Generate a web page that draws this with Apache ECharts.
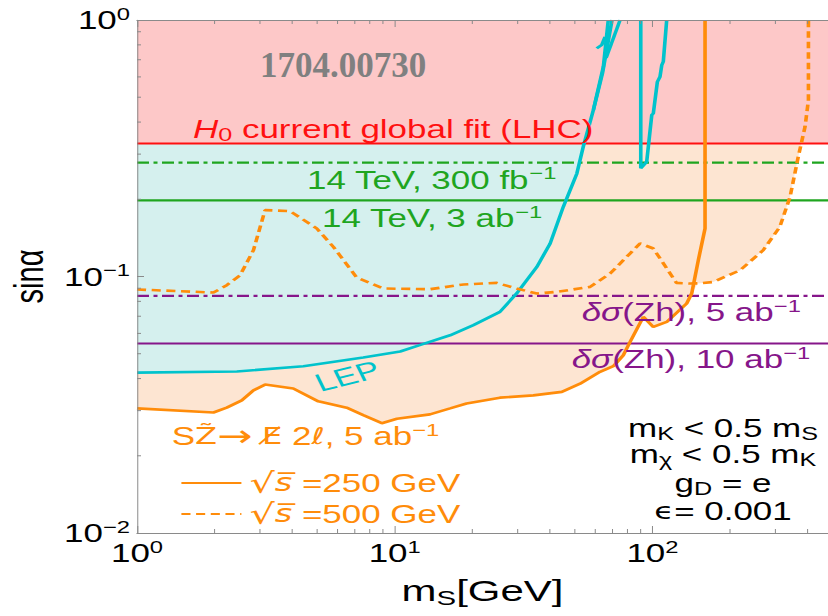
<!DOCTYPE html>
<html><head><meta charset="utf-8">
<script src="https://cdn.jsdelivr.net/npm/echarts@6/dist/echarts.min.js"></script>
<style>
html,body{margin:0;padding:0;background:#fff;overflow:hidden;}
#wrap{width:828px;height:616px;overflow:hidden;position:relative;background:#fff;}
#chart{width:592px;height:616px;transform:scaleX(1.398649);transform-origin:0 0;}
</style></head>
<body><div id="wrap"><div id="chart"></div></div>
<script>
// horizontal stretch of the reference picture
const K = 828 / 592;

// axis extents and tick values
const X_MIN = 1, X_MAX = 480, Y_MIN = 0.01, Y_MAX = 1;
const X_MINOR_TICKS = [2,3,4,5,6,7,8,9,20,30,40,50,60,70,80,90,200,300,400];
const Y_MINOR_TICKS = [0.02,0.03,0.04,0.05,0.06,0.07,0.08,0.09,0.2,0.3,0.4,0.5,0.6,0.7,0.8,0.9];

// horizontal limits on sin(alpha)
const H0_FIT = 0.330;
const LHC_300FB = 0.278;
const LHC_3AB = 0.198;
const ZH_5AB = 0.084;
const ZH_10AB = 0.0548;

// S Z~ -> missing E + 2l, sqrt(s) = 250 GeV (solid)
const SZ_250 = [[1,0.0306],[1.98,0.0295],[2.23,0.0308],[2.55,0.0329],[2.83,0.0360],[3.14,0.0379],[4.04,0.0366],[5.05,0.0326],[6.51,0.0308],[7.55,0.0288],[8.91,0.0268],[10.2,0.0279],[13.7,0.0290],[16.4,0.0306],[19.0,0.0320],[25.6,0.0337],[34.5,0.0344],[44.5,0.0355],[52.4,0.0382],[62.6,0.0425],[70.5,0.0447],[77.1,0.0493],[81.9,0.0556],[92.2,0.0696],[100.8,0.0636],[113.6,0.0665],[135.8,0.0785],[142,0.0858],[150.7,0.1158],[160,0.1539],[160,1.0]];
// sqrt(s) = 500 GeV (dashed)
const SZ_500 = [[1,0.089],[1.98,0.0866],[2.23,0.0925],[2.51,0.101],[2.83,0.1266],[3.14,0.1814],[3.92,0.180],[4.98,0.154],[5.78,0.1305],[7.12,0.0991],[9.03,0.0898],[13.7,0.0892],[18.5,0.0931],[24.9,0.0944],[29.7,0.0898],[35.6,0.0858],[42.5,0.0871],[57.3,0.0911],[68.5,0.1027],[81.9,0.123],[89.5,0.1345],[100.8,0.1286],[124,0.0944],[140,0.0939],[150,0.094],[172,0.0952],[219,0.1058],[269,0.1266],[312,0.156],[342,0.2044],[368,0.2929],[391,0.3835],[403,0.487],[403,1.0]];
const ENVELOPE_SWITCH = 146;

// LEP bound
const LEP = [[1,0.0422],[2.44,0.0426],[4.42,0.0447],[7.55,0.0483],[10.5,0.051],[12.5,0.054],[16.4,0.059],[20.2,0.0646],[25.6,0.0728],[29.7,0.0858],[35.6,0.109],[40.1,0.1345],[45.1,0.187],[50.9,0.252],[53.9,0.3205],[59.0,0.446],[64.5,0.657],[67.4,1.0]];
const LEP_STRAND_B = [[59.0,0.446],[64.0,0.62],[69.7,1.0]];
const LEP_STRAND_C = [[66.1,0.711],[74.9,1.0]];
const LEP_HOOK = [[60.8,0.775],[63.6,0.80],[65.5,0.86]];
const LEP_ZPOLE = [[90.1,1.0],[90.1,0.264],[95.0,0.280],[99.4,0.426],[100.8,0.4325],[104.5,0.574],[107,0.601],[108.7,0.667],[110.2,0.688],[113.6,1.0]];

const FONT = '"Liberation Sans", Arial, sans-serif';
const FRAME = '#8a8a8a';
const ORANGE = '#FF8C0A';
const CYAN = '#00C3CC';
const RED = '#FF1010';
const GREEN = '#1FA51F';
const PURPLE = '#86168A';
const PINK_FILL = '#FDC8C8';
const CYAN_FILL = '#D5F0EE';
const PEACH_FILL = '#FDE5D2';

const chart = echarts.init(document.getElementById('chart'), null, {renderer: 'svg', width: 592, height: 616});

function pow10Label(v) {
  const e = Math.log10(v);
  const r = Math.round(e);
  if (Math.abs(e - r) > 1e-6) return '';
  return '{b|10}{s|' + (r < 0 ? '\u2212' + (-r) : String(r)) + '}';
}
const AXIS_RICH = {
  b: {fontSize: 25, lineHeight: 30, color: '#000', fontFamily: FONT},
  s: {fontSize: 17, lineHeight: 17, verticalAlign: 'top', color: '#000', fontFamily: FONT}
};

function hLine(name, value, color, type) {
  return {name, type: 'line', data: [[X_MIN, value], [X_MAX, value]], symbol: 'none', silent: true, z: 4,
    lineStyle: {color, width: 2.2, type}};
}
function curve(name, data, color, type, z) {
  return {name, type: 'line', data, symbol: 'none', silent: true, z: z || 6, color,
    itemStyle: {color}, lineStyle: {color, width: 2.6, type: type || 'solid'}};
}

function richPart(fill, size) {
  return {fill, fontSize: size, lineHeight: 30, fontFamily: FONT};
}
function makeRich(fill) {
  return {
    t: richPart(fill, 25),
    i: Object.assign(richPart(fill, 25), {fontStyle: 'italic'}),
    d: Object.assign(richPart(fill, 25), {fontFamily: '"DejaVu Sans", sans-serif', fontSize: 23}),
    a: Object.assign(richPart(fill, 30), {fontFamily: '"DejaVu Sans", sans-serif'}),
    sup: {fill, fontSize: 17, lineHeight: 17, verticalAlign: 'top', fontFamily: FONT},
    sub: {fill, fontSize: 18, lineHeight: 17, verticalAlign: 'bottom', fontFamily: FONT}
  };
}
function label(xRef, baseRef, text, fill, align) {
  return {
    type: 'text', x: xRef / K, y: baseRef - 9, z: 100, silent: true,
    style: {text, rich: makeRich(fill), fill, fontSize: 25, fontFamily: FONT, align: align || 'left', verticalAlign: 'middle'}
  };
}

const PEACH_EDGE = SZ_250.filter(p => p[0] < ENVELOPE_SWITCH).concat(SZ_500.filter(p => p[0] >= ENVELOPE_SWITCH));

const S250_NAME = '250 GeV', S500_NAME = '500 GeV';

const option = {
  animation: false,
  backgroundColor: '#fff',
  textStyle: {fontFamily: FONT},
  grid: {left: 137 / K, right: 0, top: 20, bottom: 83, containLabel: false, outerBoundsMode: 'none'},
  xAxis: [{
    type: 'log', logBase: 10, min: X_MIN, max: X_MAX, position: 'bottom', z: 10,
    axisLine: {show: true, lineStyle: {color: FRAME, width: 1}},
    axisTick: {show: true, inside: true, length: 7, lineStyle: {color: FRAME, width: 1 / K}},
    splitLine: {show: false},
    axisLabel: {margin: 5, formatter: pow10Label, rich: AXIS_RICH, showMaxLabel: false},
    name: '{m|m}{sub|S}{t|[GeV]}', nameLocation: 'middle', nameGap: 41,
    nameTextStyle: {rich: {
      m: {fontSize: 30, lineHeight: 34, color: '#000', fontFamily: FONT},
      sub: {fontSize: 21, lineHeight: 20, verticalAlign: 'bottom', color: '#000', fontFamily: FONT},
      t: {fontSize: 30, lineHeight: 34, color: '#000', fontFamily: FONT}
    }}
  }, {
    type: 'log', logBase: 10, min: X_MIN, max: X_MAX, position: 'top', z: 10,
    axisLine: {show: true, lineStyle: {color: FRAME, width: 1}},
    axisTick: {show: true, inside: true, length: 7, lineStyle: {color: FRAME, width: 1 / K}},
    splitLine: {show: false}, axisLabel: {show: false}
  }],
  yAxis: [{
    type: 'log', logBase: 10, min: Y_MIN, max: Y_MAX, z: 10,
    axisLine: {show: true, lineStyle: {color: FRAME, width: 1 / K}},
    axisTick: {show: true, inside: true, length: 7 / K, lineStyle: {color: FRAME, width: 1}},
    splitLine: {show: false},
    axisLabel: {margin: 7 / K, formatter: pow10Label, rich: AXIS_RICH},
    name: 'sin\u03B1', nameLocation: 'middle', nameGap: 62,
    nameTextStyle: {fontSize: 29, color: '#000', fontFamily: FONT}
  }],
  legend: {
    show: true, orient: 'vertical', left: 180 / K, top: 469, padding: 0, itemWidth: 60 / K, itemHeight: 22,
    itemGap: 3, selectedMode: false, data: [S250_NAME, S500_NAME],
    itemStyle: {opacity: 0, color: 'rgba(0,0,0,0)', borderWidth: 0},
    formatter: n => '{r|\u221A}{s|s\u0305}{t| =' + n + '}',
    textStyle: {color: ORANGE, fontSize: 25, fontFamily: FONT, padding: [0, 0, 0, 1], rich: {
      r: {fontSize: 28, lineHeight: 28, color: ORANGE, fontFamily: '"DejaVu Sans", sans-serif'},
      s: {fontSize: 24, lineHeight: 28, color: ORANGE, fontStyle: 'italic', fontFamily: '"DejaVu Sans", sans-serif'},
      t: {fontSize: 25, lineHeight: 28, color: ORANGE, fontFamily: FONT}
    }}
  },
  graphic: [
    {type: 'text', x: 260 / K, y: 66, scaleX: 1 / K, z: 100, silent: true,
      style: {text: '1704.00730', fill: '#808080', fontSize: 35, fontWeight: 'bold', fontFamily: '"Liberation Serif", "Times New Roman", serif', verticalAlign: 'middle'}},
    label(193, 137.5, '{i|H}{sub|0}{t| current global fit (LHC)}', RED),
    label(307, 188.7, '{t|14 TeV, 300 fb}{sup|\u22121}', GREEN),
    label(322, 227.3, '{t|14 TeV, 3 ab}{sup|\u22121}', GREEN),
    label(581.7, 321, '{i|\u03B4\u03C3}{t|(Zh), 5 ab}{sup|\u22121}', PURPLE),
    label(571.7, 368.3, '{i|\u03B4\u03C3}{t|(Zh), 10 ab}{sup|\u22121}', PURPLE),
    label(171.7, 445, '{t|S}{d|Z\u0303}{a|\u2192}{t| }{d|E\u0338}{t| 2}{d|\u2113}{t|, 5 ab}{sup|\u22121}', ORANGE),
    {type: 'text', x: 316 / K, y: 383.5, rotation: 0.337, z: 100, silent: true,
      style: {text: 'LEP', fill: CYAN, fontSize: 25, fontFamily: FONT, verticalAlign: 'middle'}},
    label(723, 436.7, '{t|m}{sub|K}{t| < 0.5 m}{sub|S}', '#000', 'center'),
    label(723, 463.3, '{t|m}{sub|\u03C7}{t| < 0.5 m}{sub|K}', '#000', 'center'),
    label(723, 491.7, '{t|g}{sub|D}{t| = e}', '#000', 'center'),
    label(723, 520, '{d|\u03F5}{t|= 0.001}', '#000', 'center')
  ],
  series: [
    {name: 'fill-peach', type: 'line', data: PEACH_EDGE, symbol: 'none', silent: true, z: 1,
      lineStyle: {width: 0}, areaStyle: {color: PEACH_FILL, opacity: 1, origin: 'end'}},
    {name: 'fill-lep', type: 'line', data: LEP, symbol: 'none', silent: true, z: 2,
      lineStyle: {width: 0}, areaStyle: {color: CYAN_FILL, opacity: 1, origin: 'end'}},
    {name: 'H0 fit', type: 'line', data: [[X_MIN, H0_FIT], [X_MAX, H0_FIT]], symbol: 'none', silent: true, z: 3,
      lineStyle: {color: RED, width: 2.2}, areaStyle: {color: PINK_FILL, opacity: 1, origin: 'end'}},
    hLine('LHC 300', LHC_300FB, GREEN, [12 / K, 4.5 / K, 4 / K, 4.5 / K]),
    hLine('LHC 3ab', LHC_3AB, GREEN, 'solid'),
    hLine('Zh 5', ZH_5AB, PURPLE, [12 / K, 4.5 / K, 4 / K, 4.5 / K]),
    hLine('Zh 10', ZH_10AB, PURPLE, 'solid'),
    curve('LEP', LEP, CYAN),
    curve('LEP b', LEP_STRAND_B, CYAN),
    curve('LEP c', LEP_STRAND_C, CYAN),
    curve('LEP hook', LEP_HOOK, CYAN),
    curve('LEP Z', LEP_ZPOLE, CYAN),
    curve(S250_NAME, SZ_250, ORANGE, 'solid', 7),
    curve(S500_NAME, SZ_500, ORANGE, [6.5, 4], 7),
    {name: 'x-minor', type: 'custom', silent: true, z: 9, clip: false,
      data: X_MINOR_TICKS.map(v => [v, Y_MIN]),
      renderItem: (params, api) => {
        const cs = params.coordSys;
        const x = api.coord([api.value(0), Y_MIN])[0];
        const st = {stroke: FRAME, lineWidth: 1 / K};
        return {type: 'group', children: [
          {type: 'line', shape: {x1: x, y1: cs.y + cs.height, x2: x, y2: cs.y + cs.height - 4}, style: st},
          {type: 'line', shape: {x1: x, y1: cs.y, x2: x, y2: cs.y + 4}, style: st}
        ]};
      }},
    {name: 'y-minor', type: 'custom', silent: true, z: 9, clip: false,
      data: Y_MINOR_TICKS.map(v => [X_MIN, v]),
      renderItem: (params, api) => {
        const cs = params.coordSys;
        const y = api.coord([X_MIN, api.value(1)])[1];
        return {type: 'line', shape: {x1: cs.x, y1: y, x2: cs.x + 4 / K, y2: y}, style: {stroke: FRAME, lineWidth: 1}};
      }}
  ]
};
chart.setOption(option);
</script></body></html>
